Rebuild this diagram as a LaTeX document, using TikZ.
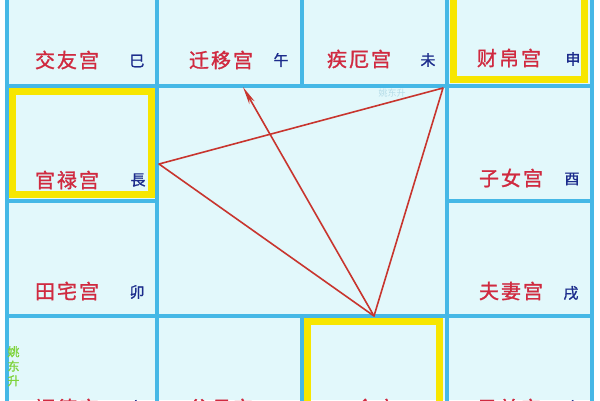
\documentclass[tikz,border=0pt]{standalone}
\usepackage{fontspec}
\usetikzlibrary{arrows.meta}
\newfontfamily\cjk{Noto Sans CJK SC}[LetterSpace=10,FakeBold=1.3]
\newfontfamily\cjkb{Noto Sans CJK SC}[FakeBold=1.2]
\newfontfamily\cjkw{Noto Sans CJK SC}
\definecolor{cellbg}{HTML}{E2F8FB}
\definecolor{gridblue}{HTML}{45B8E6}
\definecolor{boxyellow}{HTML}{F7E600}
\definecolor{palred}{HTML}{D02A40}
\definecolor{branchblue}{HTML}{1C2C8C}
\definecolor{linered}{HTML}{C8352E}
\definecolor{wmgreen}{HTML}{7ED33A}
\definecolor{wmblue}{HTML}{B5DCE8}
\begin{document}
\begin{tikzpicture}[x=1pt,y=-1pt,
 palace/.style={font=\cjk\fontsize{20}{20}\selectfont, text=palred, inner sep=0pt},
 branch/.style={font=\cjkb\fontsize{15}{15}\selectfont, text=branchblue, inner sep=0pt},
 gridline/.style={draw=gridblue, line width=4pt},
 hilite/.style={draw=boxyellow, line width=7pt},
 redline/.style={draw=linered, line width=1.6pt, line join=round}]
\useasboundingbox (0,0) rectangle (600,400);
\fill[white] (0,0) rectangle (600,400);
\fill[cellbg] (7,0) rectangle (592,400);
% highlighted palaces
\draw[hilite] (12,91) rectangle (151,194);
\draw[hilite] (453,-10) rectangle (584,79);
\draw[hilite] (307.5,321.5) rectangle (439.5,420);
% grid
\draw[gridline] (7,-5) -- (7,405);
\draw[gridline] (157,-5) -- (157,405);
\draw[gridline] (447,-5) -- (447,405);
\draw[gridline] (592,-5) -- (592,405);
\draw[gridline] (302,-5) -- (302,86);
\draw[gridline] (302,316) -- (302,405);
\draw[gridline] (7,86) -- (592,86);
\draw[gridline] (7,316) -- (592,316);
\draw[gridline] (7,201) -- (157,201);
\draw[gridline] (447,201) -- (592,201);
% palace names
\node[palace] (jiaoyou) at (67,60) {交友宫};
\node[palace] (qianyi) at (221,60) {迁移宫};
\node[palace] (jie) at (359,59) {疾厄宫};
\node[palace] (caibo) at (509,58) {财帛宫};
\node[palace] (guanlu) at (67,180) {官禄宫};
\node[palace] (zinv) at (511,178) {子女宫};
\node[palace] (tianzhai) at (67,291) {田宅宫};
\node[palace] (fuqi) at (511,291) {夫妻宫};
\node[palace] (fude) at (67,408) {福德宫};
\node[palace] (fumu) at (221,408) {父母宫};
\node[palace] (ming) at (376,408) {命宫};
\node[palace] (xiongdi) at (509,408) {兄弟宫};
% branches
\node[branch] (si) at (137,61) {巳};
\node[branch] (wu) at (281,60) {午};
\node[branch] (wei) at (428,60) {未};
\node[branch] (shen) at (573,59) {申};
\node[branch] (chen) at (138,180) {長};
\node[branch] (you) at (572,179) {酉};
\node[branch] (mao) at (137,292) {卯};
\node[branch] (xu) at (571,293) {戌};
\node[branch] (yin) at (136,407) {寅};
\node[branch] (hai) at (573,407) {亥};
% watermarks
\node[font=\cjkw\fontsize{9}{9}\selectfont, text=wmblue, inner sep=0pt] (wm) at (392,93) {姚东升};
\node[font=\cjkb\fontsize{12}{14.5}\selectfont, text=wmgreen, inner sep=0pt, align=center, anchor=north] (vt) at (13.5,346) {姚\\东\\升};
% triangle and arrow
\coordinate (A) at (159,164);
\coordinate (B) at (443,88);
\coordinate (C) at (374,316);
\coordinate (D) at (243,87);
\draw[redline] (A) -- (B) -- (C) -- cycle;
\draw[redline, -{Stealth[length=18pt,width=6pt,inset=5pt]}] (C) -- (D);
\end{tikzpicture}
\end{document}
